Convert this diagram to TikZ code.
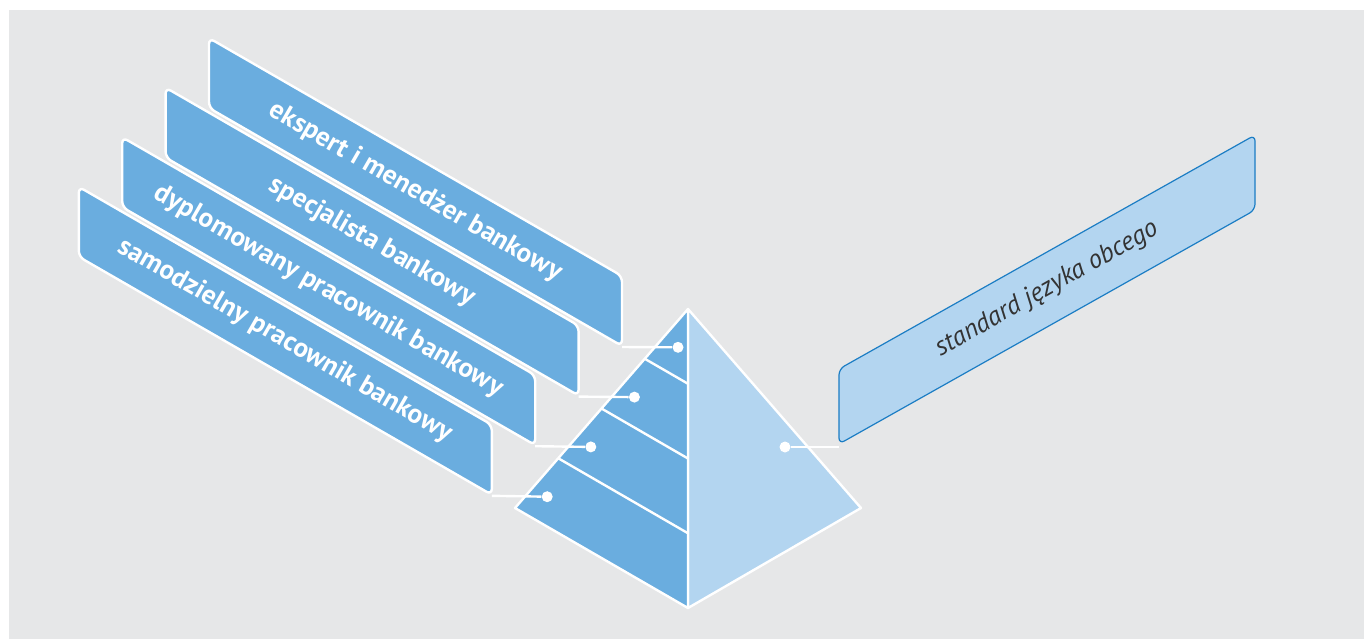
\documentclass[tikz,border=0pt]{standalone}
\usepackage{fontspec}
\setmainfont{PT Sans}
\usetikzlibrary{calc}
\definecolor{bggrey}{RGB}{230,231,232}
\definecolor{bandblue}{RGB}{106,173,223}
\definecolor{paleblue}{RGB}{179,213,240}
\definecolor{edgeblue}{RGB}{27,125,196}
\definecolor{txtgrey}{RGB}{51,51,51}

\begin{document}
\begin{tikzpicture}[x=0.5pt,y=-0.5pt,
    band/.style={fill=bandblue,draw=white,line width=1.2pt,rounded corners=3pt},
    bandlabel/.style={text=white,font=\bfseries\fontsize{13.6}{15}\selectfont,rotate=-30},
    wire/.style={draw=white,line width=1.2pt},
    dot/.style={circle,fill=white,inner sep=0pt,minimum size=5.5pt}]
  \useasboundingbox (0,0) rectangle (1364,639);
  \fill[bggrey] (9,10) rectangle (1364,639);
  % the four levels, lowest first so that each upper one lies over it
  \foreach \k/\txt in {3/samodzielny pracownik bankowy,2/dyplomowany pracownik bankowy,
      1/specjalista bankowy,0/ekspert i menedżer bankowy}{
    \path[band] (209-43.4*\k,38+49.6*\k) -- ++(0,70) -- ++(413,238) -- ++(0,-70) -- cycle;
    \node[bandlabel] (lvl\k) at (415.5-43.4*\k,192+49.6*\k) {\txt};
    \coordinate (end\k) at (622-43.4*\k,347+49.6*\k);
  }
  % pyramid
  \coordinate (apex) at (688,309);
  \coordinate (left) at (515,508);
  \coordinate (base) at (688,608);
  \coordinate (right) at (861,508);
  \filldraw[fill=paleblue,draw=white,line width=1.2pt,line join=round] (apex) -- (right) -- (base) -- cycle;
  \filldraw[fill=bandblue,draw=white,line width=1.2pt,line join=round] (apex) -- (left) -- (base) -- cycle;
  \foreach \t in {0.25,0.5,0.75}
    \draw[wire] ($(apex)!\t!(left)$) -- ($(apex)!\t!(base)$);
  \foreach \k in {0,...,3}{
    \node[dot] (d\k) at (678-43.6*\k,347.3+49.8*\k) {};
    \draw[wire] (end\k) -- (d\k);
  }
  % language standard
  \filldraw[fill=paleblue,draw=edgeblue,line width=0.6pt,rounded corners=3pt]
    (839,369) -- (839,444) -- (1255,210) -- (1255,135) -- cycle;
  \node[rotate=29.4,text=txtgrey,font=\itshape\fontsize{13.3}{15}\selectfont] (std) at (1047,289) {standard języka obcego};
  \coordinate (boxfoot) at (839,447);
  \node[dot] (dstd) at (785,447) {};
  \draw[wire] (dstd) -- (boxfoot);
\end{tikzpicture}
\end{document}
